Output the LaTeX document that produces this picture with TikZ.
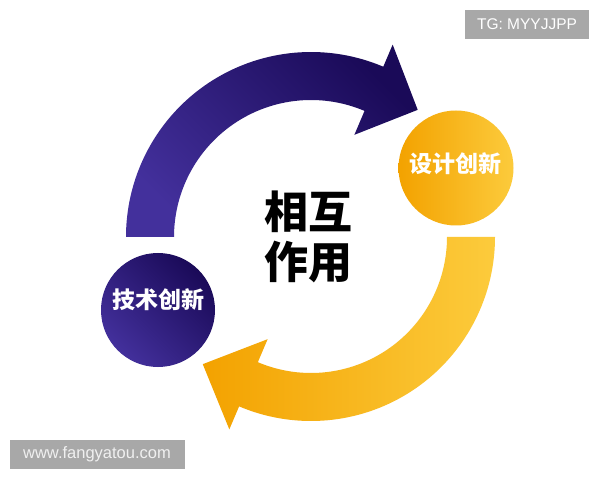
\documentclass[tikz,border=0pt]{standalone}
\usepackage{fontspec}
\setmainfont{Liberation Sans}
\newfontfamily\cjk{Noto Sans CJK SC}
\definecolor{navyD}{HTML}{1A0A58}
\definecolor{navyL}{HTML}{43309C}
\definecolor{ambO}{HTML}{F3A200}
\definecolor{ambY}{HTML}{FCCB3C}
\definecolor{tagbg}{HTML}{A8A8A8}
\tikzset{
  bluefill/.style={top color=navyD, bottom color=navyL, shading angle=-45},
  yellowfill/.style={left color=ambO, right color=ambY},
  circtext/.style={text=white, font=\cjk\bfseries\fontsize{23}{25}\selectfont},
  centertext/.style={text=black, font=\cjk\bfseries\fontsize{44}{48}\selectfont},
  tagbox/.style={fill=tagbg, inner sep=0pt, minimum height=29pt},
}
\begin{document}
\begin{tikzpicture}[x=1pt,y=1pt]
\useasboundingbox (0,0) rectangle (600,480);
\fill[white] (0,0) rectangle (600,480);
% arrows
\begin{scope}[shift={(311,243)}]
  \path[bluefill] (180:185) arc[start angle=180,end angle=67,radius=185]
    -- (67:209) -- (50:166) -- (67:111) -- (67:137)
    arc[start angle=67,end angle=180,radius=137] -- cycle;
  \path[yellowfill] (0:184) arc[start angle=0,end angle=-113,radius=184]
    -- (-113:209) -- (-130.4:167) -- (-113:111) -- (-113:136)
    arc[start angle=-113,end angle=0,radius=136] -- cycle;
\end{scope}
% circles
\node[circle, minimum size=114pt, inner sep=0pt, bluefill] (tech) at (158,170) {};
\node[circle, minimum size=115pt, inner sep=0pt, yellowfill] (design) at (456,312) {};
\node[circtext] (techtext) at (158,180) {技术创新};
\node[circtext] (designtext) at (455,316) {设计创新};
% center text
\node[centertext] (c1) at (308,268) {相互};
\node[centertext] (c2) at (308,218) {作用};
% tags
\node[tagbox, minimum width=124pt] (tg) at (527,455.5) {};
\node[text=white, font=\fontsize{15.5}{17}\selectfont] (tgtext) at (527,455.5) {TG: MYYJJPP};
\node[tagbox, minimum width=175pt] (www) at (97.5,25.5) {};
\node[text=white!94!black, font=\fontsize{16.5}{18}\selectfont] (wwwtext) at (97,25.5) {www.fangyatou.com};
\end{tikzpicture}
\end{document}
